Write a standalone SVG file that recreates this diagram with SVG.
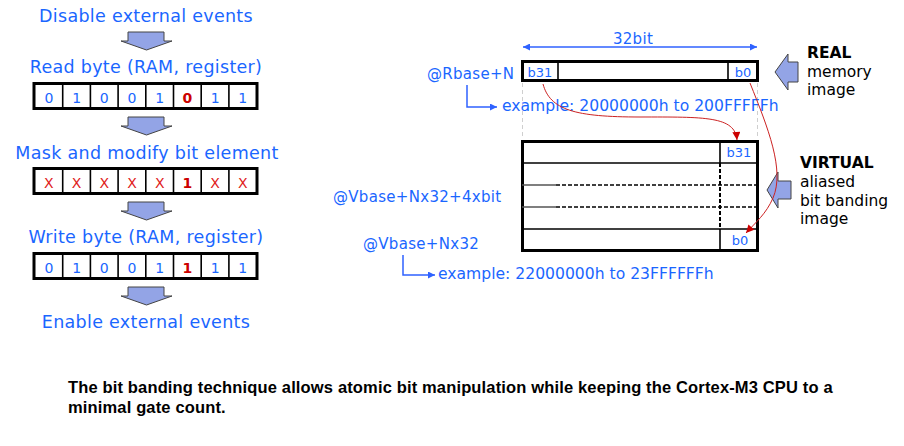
<svg xmlns="http://www.w3.org/2000/svg" width="904" height="446" viewBox="0 0 904 446">
<style>
.t{font-family:"DejaVu Sans",Verdana,sans-serif;fill:#1a66ff}
.h{font-size:17.5px;text-anchor:middle;letter-spacing:0.3px}
.d{font-size:14px;text-anchor:middle}
.r{fill:#cc0000;font-weight:bold}
.x{fill:#e02020}
.lbl{font-size:15px;letter-spacing:0.3px}
.ex{font-size:15.6px}
.k{font-family:"DejaVu Sans",Verdana,sans-serif;fill:#000;font-size:15.5px}
.bx{fill:#fff;stroke:#000;stroke-width:3}
.dv{stroke:#000;stroke-width:1.6}
.blk{fill:#93a4e6;stroke:#444;stroke-width:1}
.small{font-size:13px;text-anchor:middle}
</style>
<defs>
<marker id="ab" viewBox="0 0 10 10" refX="10" refY="5" markerWidth="8" markerHeight="7" markerUnits="userSpaceOnUse" orient="auto-start-reverse"><path d="M0,0L10,5L0,10z" fill="#2f62ff"/></marker>
<marker id="ar" viewBox="0 0 10 10" refX="10" refY="5" markerWidth="9" markerHeight="8" markerUnits="userSpaceOnUse" orient="auto"><path d="M0,0L10,5L0,10z" fill="#cc0000"/></marker>
<polygon id="down" points="128,32 164,32 164,41 172,41 146.5,50 121,41 128,41" class="blk"/>
</defs>

<g id="step-disable"><text class="t h" x="146" y="22">Disable external events</text></g>
<g id="arrow1"><use href="#down"/></g>
<g id="step-read">
<text class="t h" x="146" y="73">Read byte (RAM, register)</text>
<rect class="bx" x="34" y="83.5" width="223" height="25"/>
<g class="dv"><line x1="62.7" y1="83" x2="62.7" y2="109"/><line x1="90.4" y1="83" x2="90.4" y2="109"/><line x1="118.1" y1="83" x2="118.1" y2="109"/><line x1="145.8" y1="83" x2="145.8" y2="109"/><line x1="173.5" y1="83" x2="173.5" y2="109"/><line x1="201.2" y1="83" x2="201.2" y2="109"/><line x1="228.9" y1="83" x2="228.9" y2="109"/></g>
<text class="t d" x="48.9" y="103">0</text><text class="t d" x="76.6" y="103">1</text><text class="t d" x="104.3" y="103">0</text><text class="t d" x="132" y="103">0</text><text class="t d" x="159.7" y="103">1</text><text class="t d r" x="187.4" y="103">0</text><text class="t d" x="215.1" y="103">1</text><text class="t d" x="242.8" y="103">1</text>
</g>
<g id="arrow2"><use href="#down" y="85"/></g>
<g id="step-mask">
<text class="t h" x="147" y="159">Mask and modify bit element</text>
<rect class="bx" x="34" y="168.5" width="223" height="25"/>
<g class="dv"><line x1="62.7" y1="168" x2="62.7" y2="194"/><line x1="90.4" y1="168" x2="90.4" y2="194"/><line x1="118.1" y1="168" x2="118.1" y2="194"/><line x1="145.8" y1="168" x2="145.8" y2="194"/><line x1="173.5" y1="168" x2="173.5" y2="194"/><line x1="201.2" y1="168" x2="201.2" y2="194"/><line x1="228.9" y1="168" x2="228.9" y2="194"/></g>
<text class="t d x" x="48.9" y="188">X</text><text class="t d x" x="76.6" y="188">X</text><text class="t d x" x="104.3" y="188">X</text><text class="t d x" x="132" y="188">X</text><text class="t d x" x="159.7" y="188">X</text><text class="t d r" x="187.4" y="188">1</text><text class="t d x" x="215.1" y="188">X</text><text class="t d x" x="242.8" y="188">X</text>
</g>
<g id="arrow3"><use href="#down" y="170"/></g>
<g id="step-write">
<text class="t h" x="146" y="243">Write byte (RAM, register)</text>
<rect class="bx" x="34" y="253.5" width="223" height="25"/>
<g class="dv"><line x1="62.7" y1="253" x2="62.7" y2="279"/><line x1="90.4" y1="253" x2="90.4" y2="279"/><line x1="118.1" y1="253" x2="118.1" y2="279"/><line x1="145.8" y1="253" x2="145.8" y2="279"/><line x1="173.5" y1="253" x2="173.5" y2="279"/><line x1="201.2" y1="253" x2="201.2" y2="279"/><line x1="228.9" y1="253" x2="228.9" y2="279"/></g>
<text class="t d" x="48.9" y="273">0</text><text class="t d" x="76.6" y="273">1</text><text class="t d" x="104.3" y="273">0</text><text class="t d" x="132" y="273">0</text><text class="t d" x="159.7" y="273">1</text><text class="t d r" x="187.4" y="273">1</text><text class="t d" x="215.1" y="273">1</text><text class="t d" x="242.8" y="273">1</text>
</g>
<g id="arrow4"><use href="#down" y="255"/></g>
<g id="step-enable"><text class="t h" x="146" y="328">Enable external events</text></g>

<g id="guides" stroke="#cfcfcf" stroke-width="1" stroke-dasharray="4,3">
<line x1="522.5" y1="83" x2="522.5" y2="139"/><line x1="757.5" y1="83" x2="757.5" y2="139"/>
</g>
<g id="width-dim">
<line x1="523" y1="47" x2="757" y2="47" stroke="#2f62ff" stroke-width="1.3" marker-start="url(#ab)" marker-end="url(#ab)"/>
<text class="t lbl" x="633" y="44" text-anchor="middle">32bit</text>
</g>
<g id="real-word">
<rect class="bx" x="522.5" y="61.5" width="235" height="19"/>
<line class="dv" x1="558" y1="61" x2="558" y2="81" stroke-width="2"/>
<line class="dv" x1="728" y1="61" x2="728" y2="81" stroke-width="2"/>
<text class="t small" x="540" y="77">b31</text>
<text class="t small" x="743" y="77">b0</text>
</g>
<g id="virtual-words">
<rect class="bx" x="522.5" y="141.5" width="235" height="109"/>
<line class="dv" x1="522" y1="163" x2="758" y2="163" stroke-width="2.2"/>
<line class="dv" x1="522" y1="229" x2="758" y2="229" stroke-width="2.2"/>
<line x1="522" y1="185" x2="556" y2="185" stroke="#555" stroke-width="1.5"/>
<line x1="556" y1="185" x2="758" y2="185" stroke="#000" stroke-width="1.5" stroke-dasharray="4,2"/>
<line x1="522" y1="207" x2="556" y2="207" stroke="#555" stroke-width="1.5"/>
<line x1="556" y1="207" x2="758" y2="207" stroke="#000" stroke-width="1.5" stroke-dasharray="4,2"/>
<line class="dv" x1="720" y1="141" x2="720" y2="163" stroke-width="2"/>
<line x1="720" y1="163" x2="720" y2="229" stroke="#000" stroke-width="2" stroke-dasharray="4,2"/>
<line class="dv" x1="720" y1="229" x2="720" y2="251" stroke-width="2"/>
<text class="t small" x="739" y="157">b31</text>
<text class="t small" x="740" y="245">b0</text>
</g>
<g id="real-label">
<polygon class="blk" points="775,72 788,54 788,62 798,62 798,82 788,82 788,90"/>
<text class="k" x="807" y="58" font-weight="bold">REAL</text>
<text class="k" x="807" y="77">memory</text>
<text class="k" x="807" y="95">image</text>
</g>
<g id="virtual-label">
<polygon class="blk" points="767,190 778,172 778,181 791,181 791,199 778,199 778,208"/>
<text class="k" x="800" y="168" font-weight="bold">VIRTUAL</text>
<text class="k" x="800" y="187">aliased</text>
<text class="k" x="800" y="206">bit banding</text>
<text class="k" x="800" y="224">image</text>
</g>
<g id="rbase-label">
<text class="t lbl" x="427" y="79">@Rbase+N</text>
<text class="t ex" x="502" y="111">example: 20000000h to 200FFFFFh</text>
</g>
<g id="vbase-labels">
<text class="t lbl" x="333" y="202">@Vbase+Nx32+4xbit</text>
<text class="t lbl" x="363" y="249">@Vbase+Nx32</text>
<text class="t ex" x="438" y="279">example: 22000000h to 23FFFFFFh</text>
</g>
<g id="connectors" fill="none">
<path d="M467,85V107H497" stroke="#2f62ff" stroke-width="1.5" marker-end="url(#ab)"/>
<path d="M403,255V275H435" stroke="#2f62ff" stroke-width="1.5" marker-end="url(#ab)"/>
<path d="M543,84C550,110 575,117 640,117C705,117 735,116 737,140" stroke="#cc2222" stroke-width="1" marker-end="url(#ar)"/>
<path d="M750,83C768,128 785,170 773,198C766,214 756,222 746,233" stroke="#cc2222" stroke-width="1" marker-end="url(#ar)"/>
</g>
<g id="caption" font-family="'Liberation Sans',Arial,sans-serif" font-weight="bold" font-size="16.5" letter-spacing="0.15" fill="#000">
<text x="68" y="393">The bit banding technique allows atomic bit manipulation while keeping the Cortex-M3 CPU to a</text>
<text x="68" y="413">minimal gate count.</text>
</g>
</svg>
